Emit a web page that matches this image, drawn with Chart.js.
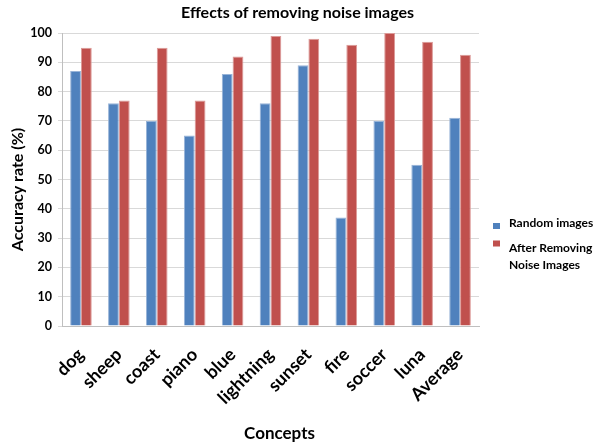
<!DOCTYPE html>
<html>
<head>
<meta charset="utf-8">
<script src="https://cdn.jsdelivr.net/npm/chart.js@4.4.1/dist/chart.umd.min.js"></script>
<style>
  html, body { margin: 0; padding: 0; background: #ffffff; }
  #wrap { width: 595px; height: 446px; }
</style>
</head>
<body>
<div id="wrap"><canvas id="c" width="595" height="446"></canvas></div>
<script>
// Accuracy per concept, before and after the noisy images are removed
const categories = ['dog', 'sheep', 'coast', 'piano', 'blue', 'lightning', 'sunset', 'fire', 'soccer', 'luna', 'Average'];
const randomImages = [87, 76, 70, 65, 86, 76, 89, 37, 70, 55, 71.1];
const afterRemovingNoise = [95, 77, 95, 77, 92, 99, 98, 96, 100, 97, 92.6];
const seriesLabels = [['Random images'], ['After Removing', 'Noise Images']];
const yTickValues = [0, 10, 20, 30, 40, 50, 60, 70, 80, 90, 100];
const chartTitle = 'Effects of removing noise images';
const xAxisTitle = 'Concepts';
const yAxisTitle = 'Accuracy rate (%)';

const FONT = 'Lato, "Open Sans", "DejaVu Sans", sans-serif';
const BLUE = '#4f81bd';
const RED = '#c0504d';

// Chart title and the two axis titles
const titlesPlugin = {
  id: 'titles',
  afterDraw(chart) {
    const ctx = chart.ctx;
    const area = chart.chartArea;
    ctx.save();
    ctx.fillStyle = '#000';
    ctx.textAlign = 'center';
    ctx.textBaseline = 'middle';

    ctx.font = 'bold 16px ' + FONT;
    ctx.fillText(chartTitle, chart.width / 2, 13);

    ctx.font = 'bold 17px ' + FONT;
    ctx.fillText(xAxisTitle, (area.left + area.right) / 2 + 9, 434);

    ctx.translate(18, (area.top + area.bottom) / 2 + 10);
    ctx.rotate(-Math.PI / 2);
    ctx.font = 'bold 16px ' + FONT;
    ctx.fillText(yAxisTitle, 0, 0);
    ctx.restore();
  }
};

// Legend on the right side, with a two-line second entry
const sideLegendPlugin = {
  id: 'sideLegend',
  afterDraw(chart) {
    const ctx = chart.ctx;
    const area = chart.chartArea;
    const boxX = area.right + 14;
    const textX = area.right + 30;
    const lineGap = 16.5;
    const entries = [
      { baseline: 227, box: 223 },
      { baseline: 252, box: 240.5 }
    ];
    ctx.save();
    ctx.font = 'bold 12px ' + FONT;
    ctx.textAlign = 'left';
    ctx.textBaseline = 'alphabetic';
    chart.data.datasets.forEach((ds, i) => {
      const e = entries[i];
      ctx.fillStyle = ds.backgroundColor;
      ctx.fillRect(boxX, e.box, 7, 6);
      ctx.fillStyle = '#000';
      seriesLabels[i].forEach((ln, j) => ctx.fillText(ln, textX, e.baseline + j * lineGap));
    });
    ctx.restore();
  }
};

new Chart(document.getElementById('c'), {
  type: 'bar',
  data: {
    labels: categories,
    datasets: [
      {
        label: seriesLabels[0].join(' '),
        data: randomImages,
        backgroundColor: BLUE,
        borderColor: '#98b4d8',
        borderWidth: 1
      },
      {
        label: seriesLabels[1].join(' '),
        data: afterRemovingNoise,
        backgroundColor: RED,
        borderColor: '#dc9a98',
        borderWidth: 1
      }
    ]
  },
  options: {
    responsive: false,
    animation: false,
    devicePixelRatio: 1,
    layout: { padding: { top: 33, right: 116, left: 0, bottom: 0 } },
    datasets: { bar: { barPercentage: 1.0, categoryPercentage: 0.57 } },
    plugins: {
      legend: { display: false },
      title: { display: false },
      tooltip: { enabled: false }
    },
    scales: {
      x: {
        grid: { display: false },
        border: { display: true, color: '#bfbfbf', width: 1 },
        ticks: {
          color: '#000',
          font: { family: FONT, size: 18, weight: 'bold' },
          minRotation: 45,
          maxRotation: 45,
          padding: 10,
          autoSkip: false
        },
        afterFit(scale) { scale.height = 120; }
      },
      y: {
        min: 0,
        max: 100,
        afterBuildTicks(scale) { scale.ticks = yTickValues.map(v => ({ value: v })); },
        grid: { color: '#d9d9d9', lineWidth: 1, tickLength: 4 },
        border: { display: true, color: '#bfbfbf', width: 1 },
        ticks: {
          color: '#000',
          font: { family: FONT, size: 12.5, weight: 'bold' },
          padding: 6
        },
        afterFit(scale) { scale.width = 62; }
      }
    }
  },
  plugins: [titlesPlugin, sideLegendPlugin]
});
</script>
</body>
</html>
